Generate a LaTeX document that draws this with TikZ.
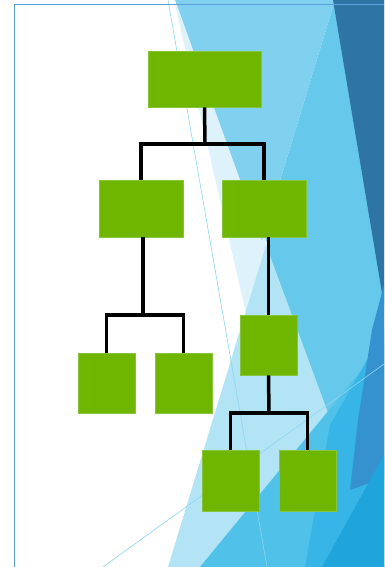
\documentclass[tikz,border=0pt]{standalone}
\usetikzlibrary{calc}
\definecolor{leaf}{HTML}{6FB600}
\definecolor{leafedge}{HTML}{86C53A}
\definecolor{frameblue}{HTML}{5CA0DC}
\definecolor{paleA}{HTML}{DDF2FA}
\definecolor{lightA}{HTML}{7FD1EF}
\definecolor{medA}{HTML}{66C8EA}
\definecolor{darkA}{HTML}{2E74A5}
\definecolor{lightB}{HTML}{B2E4F5}
\definecolor{brightA}{HTML}{50C2E9}
\definecolor{brightB}{HTML}{36B5E6}
\definecolor{medDark}{HTML}{3592CF}
\definecolor{deepA}{HTML}{1FA5DB}
\definecolor{streak}{HTML}{8DD6F0}
\tikzset{
  box/.style n args={2}{draw=leafedge,fill=leaf,line width=0.6pt,inner sep=0pt,
    minimum width=#1pt,minimum height=#2pt},
  link/.style={black,line width=3.5pt}
}
\begin{document}
\begin{tikzpicture}[x=1pt,y=-1pt]
  \useasboundingbox (0,0) rectangle (384,567);
  \fill[white] (0,0) rectangle (384,567);
  % background facets
  \fill[medA] (262,240) -- (335,0) -- (384,0) -- (384,567) -- cycle;
  \fill[paleA] (174,0) -- (246,313) -- (268,245) -- cycle;
  \fill[lightA] (175,0) -- (335,0) -- (262,240) -- cycle;
  \fill[darkA] (333,0) -- (384,0) -- (384,305) -- cycle;
  \fill[lightB] (266,245) -- (168,567) -- (385,567) -- cycle;
  \fill[brightA] (384,343) -- (200,567) -- (384,567) -- cycle;
  \fill[brightB] (384,330) -- (330,425) -- (305,567) -- (384,567) -- cycle;
  \fill[medDark] (384,285) -- (372,330) -- (358,420) -- (350,490) -- (384,478) -- cycle;
  \fill[deepA] (384,455) -- (322,567) -- (384,567) -- cycle;
  \draw[streak,line width=0.6pt] (168,0) -- (267,567);
  \draw[streak,line width=0.6pt] (103,567) -- (384,364);
  % frame
  \draw[frameblue,line width=1pt] (14.5,567) -- (14.5,4.5) -- (384,4.5);
  % boxes
  \node[box={113}{56}] (root) at (204.5,79) {};
  \node[box={84}{57}] (midL) at (141,208.5) {};
  \node[box={84}{57}] (midR) at (264,208.5) {};
  \node[box={57}{60}] (leafLL) at (106.5,383) {};
  \node[box={57}{60}] (leafLR) at (183.5,383) {};
  \node[box={57}{60}] (rm) at (268.5,345) {};
  \node[box={57}{61}] (leafBL) at (230.5,480.5) {};
  \node[box={57}{61}] (leafBR) at (307.5,480.5) {};
  % connectors
  \coordinate (j1) at (205,144);
  \coordinate (j2) at (143,315);
  \coordinate (j3) at (269,413);
  \draw[link] (root.south) -- (j1);
  \draw[link] (midL.north) |- (j1) -| (midR.north);
  \draw[link] (midL.south -| j2) -- (j2);
  \draw[link] (leafLL.north) |- (j2) -| (leafLR.north);
  \draw[link] (rm.north) -- (rm.north |- midR.south);
  \draw[link] (rm.south) -- (j3);
  \draw[link] (leafBL.north) |- (j3) -| (leafBR.north);
\end{tikzpicture}
\end{document}
